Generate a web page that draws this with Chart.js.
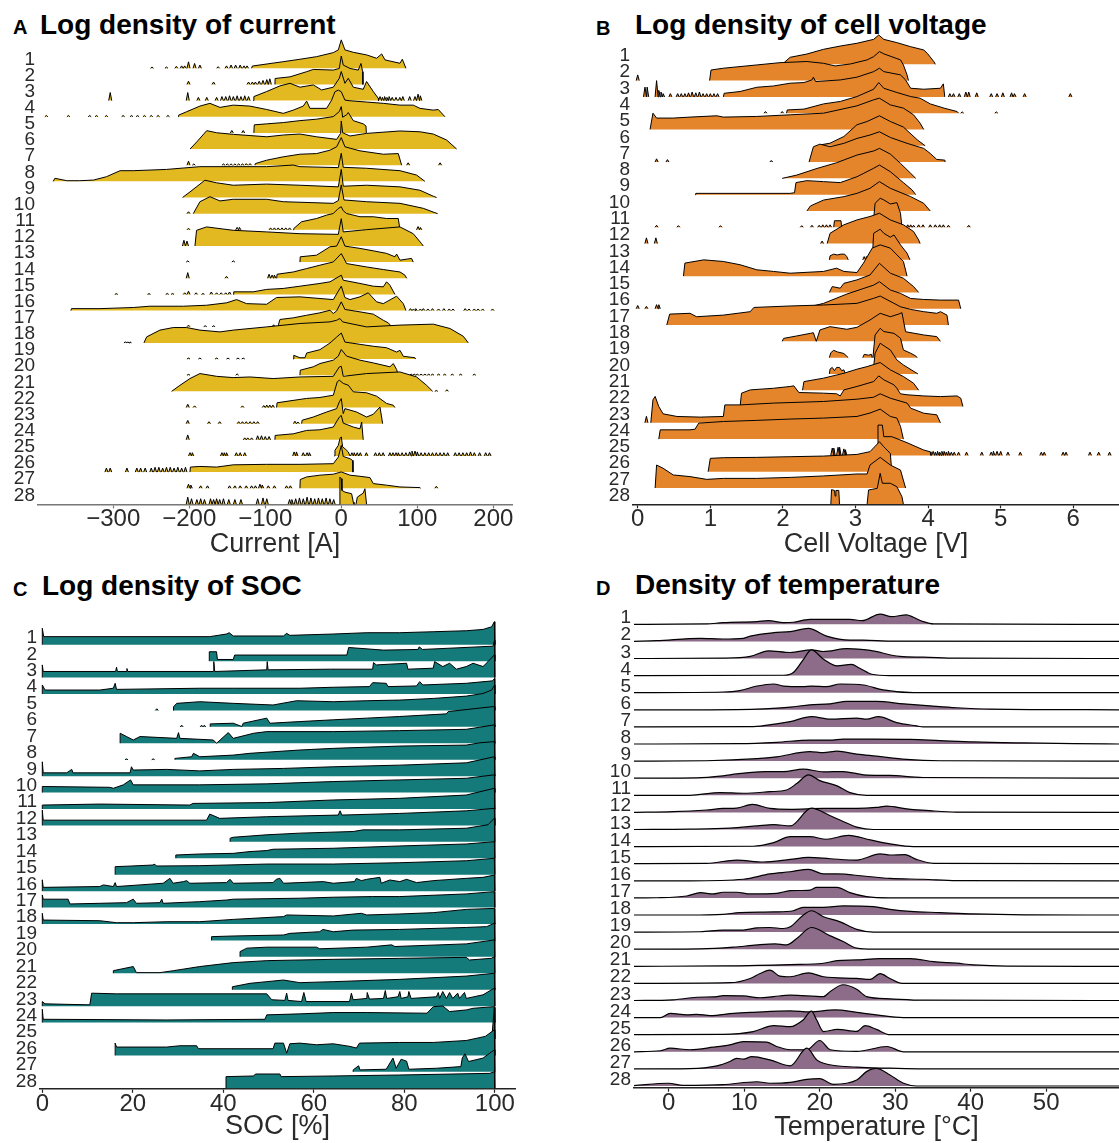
<!DOCTYPE html>
<html>
<head>
<meta charset="utf-8">
<script src="https://cdn.jsdelivr.net/npm/chart.js@4.4.1/dist/chart.umd.min.js"></script>
<style>
  html, body { margin: 0; padding: 0; background: #fff; overflow: hidden; }
  body { width: 1119px; height: 1143px; position: relative; font-family: 'Liberation Sans', Arial, sans-serif; }
  .tag, .title { position: absolute; font-weight: bold; color: #000; line-height: 1; white-space: nowrap; }
  .tag { font-size: 20px; }
  .title { font-size: 28px; }
  .panel { position: absolute; }
</style>
</head>
<body>
<div class="tag" style="left:13px;top:17px">A</div>
<div class="title" style="left:40px;top:10.5px">Log density of current</div>
<div class="tag" style="left:596px;top:18px">B</div>
<div class="title" style="left:635px;top:11.3px">Log density of cell voltage</div>
<div class="tag" style="left:13px;top:579px">C</div>
<div class="title" style="left:42px;top:572px">Log density of SOC</div>
<div class="tag" style="left:596px;top:578px">D</div>
<div class="title" style="left:635px;top:571.3px">Density of temperature</div>

<div class="panel" id="pA"><canvas></canvas></div>
<div class="panel" id="pB"><canvas></canvas></div>
<div class="panel" id="pC"><canvas></canvas></div>
<div class="panel" id="pD"><canvas></canvas></div>

<script>
// row labels, top to bottom
const ROW_LABELS = ['1','2','3','4','5','6','7','8','9','10','11','12','13','14','15','16','17','18','19','20','21','22','23','24','25','26','27','28'];

const CURRENT_TICKS = [-300, -200, -100, 0, 100, 200];
const VOLTAGE_TICKS = [0, 1, 2, 3, 4, 5, 6];
const SOC_TICKS = [0, 20, 40, 60, 80, 100];
const TEMP_TICKS = [0, 10, 20, 30, 40, 50];

// each row: [value, height in row units], null = gap
const CURRENT_ROWS = [
  [[-118,0],[-117,0.14],[-76.3,0.41],[-54.4,0.56],[-32.5,0.72],[-10.5,0.97],[-3.9,1.14],[0,1.76],[4.8,1.14],[15.8,0.99],[33.3,0.83],[46.5,0.62],[53.1,0.89],[57.5,0.52],[77.2,0.31],[80.3,0.56],[85.1,0]],
  [[-87.3,0],[-87,0.37],[-67.5,0.47],[-45.6,0.79],[-36.8,0.93],[-10.5,0.89],[-2.6,0.99],[0,1.76],[2.6,1.2],[11.4,0.99],[22.4,0.89],[25.9,1.3],[28.1,0.79],[28.5,0]],
  [[-115.8,0],[-115,0.25],[-98.2,0.56],[-80.7,0.91],[-67.5,1.07],[-54.4,0.83],[-36.8,0.97],[-25.9,0.66],[-10.5,0.83],[-2.6,1.38],[0,1.8],[4.8,1.07],[9.2,1.38],[15.8,0.83],[28.9,0.7],[33.3,1.18],[42.1,0.56],[48.7,0.14],[49,0]],
  [[-214.5,0],[-214,0.1],[-203.5,0.31],[-186,0.66],[-172.8,0.83],[-159.6,0.58],[-142.1,0.72],[-120.2,0.66],[-98.2,0.45],[-76.3,0.21],[-63.2,0.41],[-50,0.66],[-45.6,0.97],[-41.2,0.52],[-19.3,0.52],[-12.7,1.03],[-8.3,1.55],[-3.9,1.65],[0,1.55],[4.8,1.03],[11.4,0.99],[33.3,0.91],[55.3,0.83],[77.2,0.72],[94.7,0.72],[103.5,0.52],[121,0.41],[127.6,0.45],[136.4,0]],
  [[-115,0],[-114.5,0.5],[-98.2,0.56],[-76.3,0.64],[-54.4,0.76],[-32.5,0.85],[-10.5,1.01],[-2.6,1.32],[0,1.63],[1.8,0.97],[7,1.12],[9.2,1.26],[15.8,0.76],[28.9,0.56],[32.5,0.43],[33,0]],
  [[-199,0],[-190,0.45],[-177,1.14],[-164,1.01],[-142,0.91],[-98,0.76],[-76,0.87],[-54.4,0.93],[-32.5,0.76],[-6.1,0.6],[-0.9,0.97],[0,1.74],[1.8,1.01],[11.4,0.81],[33.3,0.97],[77.2,1.12],[103.5,1.07],[121,0.93],[138.6,0.56],[151.8,0]],
  [[-113.6,0],[-113,0.1],[-98.2,0.31],[-76.3,0.52],[-54.4,0.68],[-32.5,0.72],[-14.9,0.93],[-6.1,1.14],[0,1.71],[4.8,1.14],[24.6,0.89],[33.3,0.83],[55.3,0.68],[75,0.72],[79.4,0]],
  [[-379,0],[-376.8,0.19],[-361,0.04],[-344,0.04],[-326,0.08],[-308.8,0.29],[-291,0.66],[-273.7,0.66],[-229.8,0.74],[-186,0.91],[-142,0.91],[-98,0.91],[-63.2,1.01],[-54.4,0.91],[-3.9,0.85],[0,1.74],[2.6,0.87],[33.3,0.81],[77.2,0.66],[99.1,0.39],[110,0]],
  [[-208.8,0],[-199,0.35],[-179.4,1.07],[-164,0.91],[-142.1,0.76],[-98.2,0.83],[-54.4,0.76],[-3.9,0.66],[0,1.74],[2.6,0.7],[33.3,0.76],[77.2,0.66],[103.5,0.45],[121,0.08],[125.4,0]],
  [[-194.7,0],[-186,0.74],[-172.8,1.05],[-159.6,0.79],[-142.1,0.89],[-98.2,0.89],[-76.3,0.74],[-10.5,0.64],[-3.9,0.81],[0,1.78],[3.5,0.85],[33.3,0.74],[77.2,0.64],[107.9,0.33],[123.2,0.06],[126.8,0]],
  [[-63.2,0],[-62.5,0.08],[-52.2,0.5],[-32.5,0.7],[-19.3,0.91],[-10.5,1.01],[-3.9,1.32],[0,1.43],[2.6,1.18],[7,1.01],[24.6,0.81],[42.1,0.81],[59.6,0.7],[75,0.7],[77.2,0]],
  [[-192.5,0],[-190.4,0.97],[-177.2,1.18],[-142.1,0.97],[-98.2,0.87],[-54.4,0.76],[-3.9,0.72],[0,1.69],[2.6,0.87],[33.3,1.01],[77.2,1.18],[94.7,0.76],[105.7,0.14],[107.9,0]],
  [[-54.4,0],[-54,0.33],[-32.5,0.43],[-14.9,0.95],[-6.1,0.99],[0,1.57],[4.8,0.99],[24.6,0.85],[42.1,0.7],[59.6,0.54],[70.6,0.33],[72.8,0.5],[77.2,0.12],[92.5,0.23],[94.7,0]],
  [[-85,0],[-84.5,0.25],[-63.2,0.39],[-45.6,0.6],[-28.1,0.81],[-10.5,1.01],[0,1.53],[7,0.91],[33.3,0.7],[55.3,0.54],[77.2,0.39],[83.8,0.19],[86,0]],
  [[-142.1,0],[-141.5,0.16],[-115.8,0.16],[-98.2,0.31],[-76.3,0.37],[-54.4,0.51],[-28.1,0.68],[-14.9,0.78],[0,1.19],[2.6,0.88],[24.6,0.68],[42.1,0.51],[55.3,0.47],[59.6,0.78],[64,0.57],[70.6,0]],
  [[-355.7,0],[-355,0.12],[-317.5,0.12],[-273.7,0.19],[-251.8,0.27],[-207.9,0.27],[-177.2,0.33],[-150.9,0.48],[-137.7,0.68],[-124.6,0.43],[-98.2,0.39],[-85.1,0.81],[-54.4,0.85],[-10.5,0.68],[0,1.51],[4.8,0.81],[11.4,0.68],[24.6,0.85],[35.5,1.1],[46.5,0.54],[55.3,0.43],[72.8,0.89],[81.6,0.43],[85.1,0]],
  [[-82.9,0],[-82.5,0.16],[-80.7,0.45],[-63.2,0.55],[-45.6,0.71],[-28.1,0.86],[-14.9,1.02],[-10.5,0.82],[-6.1,0.98],[0,1.54],[4.8,1.07],[24.6,0.92],[42.1,0.78],[55.3,0.4],[61.8,0.24],[66.2,0]],
  [[-259.6,0],[-256.1,0.37],[-238.6,0.79],[-221,0.95],[-203.5,0.95],[-186,0.79],[-159.6,0.68],[-142.1,0.79],[-98.2,0.99],[-54.4,1.2],[-14.9,1.3],[-6.1,1.4],[-1.8,1.51],[1.8,1.3],[11.4,1.2],[33.3,0.99],[77.2,1.1],[121,1.16],[143,0.89],[160.5,0.41],[167.1,0]],
  [[-63.2,0],[-62.5,0.23],[-54.4,0.08],[-47.8,0.08],[-45.6,0.37],[-28.1,0.58],[-14.9,0.99],[-6.1,1.36],[0,1.61],[4.8,1.05],[24.6,0.91],[42.1,0.79],[59.6,0.7],[72.8,0.43],[77.2,0.54],[81.6,0.17],[96.9,0.08],[97.8,0]],
  [[-54.4,0],[-54,0.31],[-36.8,0.52],[-28.1,0.72],[-10.5,0.93],[-3.9,1.18],[0,1.59],[7,1.18],[24.6,0.93],[42.1,0.76],[64,0.52],[68.4,0.72],[72.8,0.35],[75,0]],
  [[-223.2,0],[-212.3,0.37],[-199.1,0.79],[-186,1.1],[-164,0.93],[-142.1,0.85],[-120.2,0.89],[-89.5,0.79],[-54.4,0.89],[-10.5,0.93],[-2.6,1.51],[0,1.55],[2.6,0.93],[33.3,1.1],[77.2,1.2],[99.1,0.89],[112.3,0.37],[120.2,0]],
  [[-85.1,0],[-84.5,0.29],[-67.5,0.41],[-45.6,0.56],[-28.1,0.62],[-10.5,0.76],[-5.3,1.59],[-2.6,1.69],[2.6,1.49],[9.2,1.38],[15.8,0.97],[33.3,0.91],[46.5,0.7],[59.6,0.25],[68.4,0.14],[70.6,0]],
  [[-52.2,0],[-51.5,0.21],[-36.8,0.41],[-19.3,0.72],[-6.1,0.93],[-2.6,1.34],[0,1.55],[2.6,0.62],[4.8,0.93],[20.2,0.72],[33.3,0.41],[42.1,0.58],[50.9,1.03],[54.4,0]],
  [[-87.3,0],[-87,0.27],[-63.2,0.37],[-45.6,0.58],[-28.1,0.62],[-10.5,0.79],[-2.6,1.4],[0,1.51],[2.6,1.03],[15.8,0.79],[24.6,0.68],[26.8,1.1],[28.9,0]],
  [[-9.2,0],[-8.3,0.35],[-3.9,0.66],[-1.8,1.07],[0,1.18],[1.8,0.56],[4.8,0.45],[9.2,0.25],[11.4,0]],
  [[-199.1,0],[-198.5,0.31],[-186,0.35],[-164,0.31],[-142.1,0.45],[-98.2,0.48],[-54.4,0.48],[-10.5,0.52],[-3.9,0.93],[0,1.65],[2.6,0.97],[11.4,0.83],[14.9,0.72],[15.4,0]],
  [[-54.4,0],[-54,0.54],[-45.6,0.7],[-28.1,0.81],[-10.5,0.87],[0,1.01],[11.4,0.81],[24.6,0.74],[37.7,0.66],[42.1,0.29],[59.6,0.19],[77.2,0.08],[103.5,0.04],[104.4,0]],
  [[-2.6,0],[-1.8,1.69],[0,1.59],[0.9,0.87],[4.8,0.76],[13.6,0.66],[15.8,0.14],[16.7,0],null,[19.3,0],[21.1,0.45],[28.9,0.7],[31.1,0.97],[33.3,0]]
];

// isolated small bumps: [value, height]
const CURRENT_SPIKES = [
  [[-249,0.08],[-230,0.08],[-217,0.12],[-210,0.15],[-206,0.15],[-201,0.4],[-193,0.3],[-186,0.2],[-162,0.1],[-151,0.15],[-145,0.2],[-139,0.2],[-133,0.2],[-128,0.15],[-124,0.15]],
  [[-201,0.2],[-168,0.15],[-122,0.15],[-117,0.15],[-113,0.15],[-108,0.2],[-103,0.25],[-98,0.3],[-94,0.35]],
  [[-304,0.5],[-202,0.5],[-188,0.2],[-177,0.2],[-164,0.2],[-157,0.25],[-152,0.25],[-147,0.3],[-142,0.25],[-137,0.3],[-132,0.25],[-127,0.3],[-122,0.25],[51,0.25],[54,0.2],[57,0.25],[60,0.2],[63,0.25],[67,0.2],[72,0.2],[77,0.2],[81,0.25],[90,0.25],[97,0.25],[101,0.4],[104,0.3]],
  [[-388,0.08],[-359,0.08],[-331,0.08],[-322,0.08],[-309,0.08],[-287,0.08],[-276,0.08],[-268,0.08],[-259,0.08],[-250,0.08],[-241,0.08],[-228,0.08]],
  [[-144,0.15],[-129,0.15]],
  [],
  [[-201,0.25],[-194,0.08],[-155,0.08],[-150,0.08],[-145,0.08],[-140,0.08],[-135,0.08],[-130,0.08],[-125,0.1],[-120,0.1],[88,0.15],[130,0.15]],
  [],
  [],
  [[-201,0.12]],
  [[-201,0.1],[-137,0.15],[-134,0.15],[-93,0.12],[-88,0.12],[-83,0.12],[-78,0.12],[-73,0.12],[-68,0.12],[101,0.2],[104,0.15]],
  [[-207,0.35],[-203,0.3]],
  [[-202,0.08],[-142,0.08]],
  [[-202,0.35],[-151,0.12],[-95,0.25],[-91,0.2],[-88,0.2]],
  [[-296,0.05],[-253,0.05],[-229,0.06],[-222,0.06],[-206,0.1],[-201,0.2],[-191,0.1],[-182,0.06],[-171,0.15],[-164,0.1],[-158,0.1],[-152,0.1],[-147,0.15]],
  [[91,0.12],[95,0.1],[98,0.12],[104,0.1],[108,0.12],[114,0.1],[120,0.12],[128,0.1],[135,0.12],[142,0.1],[147,0.1],[163,0.12],[168,0.1],[175,0.1],[180,0.1],[186,0.1],[199,0.1]],
  [[-201,0.1],[-179,0.06],[-168,0.06],[-89,0.12]],
  [[-284,0.06],[-281,0.06],[-278,0.06]],
  [[-201,0.06],[-186,0.06],[-164,0.06],[-149,0.06],[-136,0.06],[-129,0.06]],
  [[-201,0.05],[-137,0.08],[92,0.06],[96,0.06],[100,0.06],[105,0.06],[110,0.06],[115,0.06],[120,0.06],[128,0.06],[136,0.06],[146,0.06],[157,0.06],[175,0.06]],
  [[125,0.05],[139,0.1]],
  [[-202,0.2],[-193,0.1],[-130,0.1],[-102,0.12],[-98,0.15],[-94,0.15],[-90,0.15]],
  [[-202,0.2],[-174,0.12],[-160,0.12],[-135,0.12],[-130,0.12],[-125,0.12],[-120,0.12],[-115,0.12],[-110,0.12],[-61,0.15],[-57,0.1]],
  [[-202,0.3],[-127,0.12],[-123,0.12],[-118,0.12],[-110,0.25],[-105,0.25],[-100,0.2],[-95,0.2]],
  [[-199,0.2],[-196,0.2],[-157,0.2],[-154,0.2],[-151,0.2],[-138,0.2],[-133,0.2],[-127,0.2],[-62,0.25],[-59,0.25],[-50,0.2],[-45,0.2],[-42,0.2],[14,0.2],[17,0.2],[21,0.2],[25,0.2],[33,0.2],[45,0.2],[50,0.2],[55,0.2],[64,0.2],[68,0.2],[72,0.2],[75,0.2],[80,0.2],[85,0.2],[90,0.25],[93,0.3],[97,0.3],[100,0.25],[105,0.2],[110,0.2],[115,0.2],[120,0.2],[125,0.2],[130,0.2],[135,0.2],[140,0.2],[150,0.2],[155,0.2],[160,0.2],[165,0.2],[170,0.25],[175,0.2],[182,0.2],[190,0.2],[195,0.2]],
  [[-309,0.25],[-304,0.25],[-282,0.25],[-269,0.25],[-264,0.25],[-258,0.25],[-250,0.25],[-245,0.3],[-240,0.3],[-235,0.25],[-230,0.3],[-225,0.3],[-220,0.25],[-215,0.3],[-210,0.25],[-205,0.3]],
  [[-201,0.25],[-198,0.2],[-185,0.15],[-176,0.15],[-147,0.15],[-140,0.15],[-133,0.15],[-125,0.15],[-118,0.15],[-113,0.15],[-107,0.25],[-104,0.2],[-96,0.15],[-88,0.15],[-72,0.15],[-67,0.15],[125,0.12]],
  [[-202,0.45],[-197,0.35],[-190,0.3],[-185,0.35],[-180,0.3],[-172,0.35],[-168,0.3],[-164,0.35],[-160,0.3],[-155,0.35],[-148,0.3],[-140,0.3],[-132,0.3],[-110,0.35],[-103,0.4],[-98,0.35],[-68,0.3],[-65,0.3],[-60,0.35],[-55,0.4],[-50,0.35],[-45,0.45],[-40,0.4],[-35,0.35],[-30,0.4],[-25,0.35],[-20,0.4],[-15,0.35],[-10,0.3]]
];

const VOLTAGE_ROWS = [
  [[2.01,0],[2.02,0.12],[2.1,0.43],[2.33,0.63],[2.56,0.92],[2.79,1.12],[3.02,1.29],[3.25,1.53],[3.32,1.8],[3.39,1.53],[3.57,1.33],[3.76,1.08],[3.94,0.88],[3.99,0.67],[4.08,0.16],[4.1,0]],
  [[0.99,0],[1.01,0.65],[1.18,0.76],[1.64,0.96],[1.96,1.1],[2.33,1.17],[2.56,1.06],[2.72,0.9],[2.93,1.02],[3.16,1.27],[3.25,1.47],[3.33,1.78],[3.39,1.64],[3.62,1.27],[3.66,0.96],[3.71,0.35],[3.73,0]],
  [[1.18,0],[1.19,0.22],[1.41,0.33],[1.64,0.59],[1.87,0.67],[2.1,0.84],[2.29,0.88],[2.4,1.04],[2.42,1.21],[2.45,0.94],[2.79,1.04],[3.02,1.21],[3.25,1.55],[3.33,1.76],[3.39,1.55],[3.62,1.35],[3.69,1.04],[3.76,0.53],[3.94,0.47],[4.17,0.53],[4.21,0.8],[4.23,0]],
  [[2.05,0],[2.06,0.2],[2.29,0.25],[2.56,0.57],[2.79,0.72],[3.02,1.02],[3.25,1.47],[3.32,1.88],[3.39,1.53],[3.57,1.27],[3.76,1.02],[3.89,0.92],[4.03,0.57],[4.22,0.31],[4.4,0.1],[4.42,0]],
  [[0.17,0],[0.21,1.0],[0.26,0.7],[0.49,0.7],[0.72,0.76],[1.09,0.84],[1.18,0.76],[1.64,0.8],[2.1,0.9],[2.56,1.0],[3.02,1.45],[3.25,1.82],[3.33,1.92],[3.48,1.51],[3.66,1.31],[3.8,0.9],[3.89,0.39],[3.94,0]],
  [[2.51,0],[2.52,0.06],[2.65,0.16],[2.84,0.57],[3.02,1.29],[3.16,1.49],[3.33,1.84],[3.48,1.49],[3.66,1.15],[3.85,0.37],[3.96,0]],
  [[2.36,0],[2.42,0.94],[2.51,1.1],[2.65,0.94],[2.84,1.15],[3.02,1.45],[3.2,1.66],[3.33,1.86],[3.48,1.51],[3.71,1.15],[3.94,0.84],[4.03,0.53],[4.12,0.16],[4.23,0.12],[4.235,0]],
  [[1.99,0],[2.19,0.2],[2.47,0.61],[2.74,0.96],[3.02,1.43],[3.25,1.68],[3.33,1.84],[3.48,1.49],[3.62,0.92],[3.76,0.31],[3.83,0]],
  [[0.79,0],[0.8,0.08],[2.1,0.08],[2.16,0.12],[2.18,0.74],[2.33,0.86],[2.56,0.8],[2.79,0.74],[3.02,1.1],[3.25,1.62],[3.33,1.82],[3.48,1.41],[3.66,0.74],[3.78,0.29],[3.83,0]],
  [[2.33,0],[2.38,0.31],[2.56,0.67],[2.84,0.88],[3.02,1.08],[3.2,1.39],[3.33,1.8],[3.48,1.39],[3.76,0.88],[3.94,0.47],[4.03,0]],
  [[2.7,0],[2.71,0.4],[2.8,0.4],[2.81,0],null,[3.24,0],[3.27,1.47],[3.34,1.78],[3.39,1.68],[3.48,1.43],[3.57,1.51],[3.62,0.86],[3.64,0]],
  [[2.61,0],[2.65,0.63],[2.84,1.15],[3.02,1.45],[3.2,1.66],[3.33,1.86],[3.48,1.45],[3.66,1.15],[3.8,0.74],[3.87,0.22],[3.89,0]],
  [[2.64,0],[2.65,0.25],[2.7,0.35],[2.75,0.3],[2.8,0.35],[2.85,0.35],[2.88,0.2],[2.9,0],null,[3.23,0],[3.25,1.63],[3.34,1.88],[3.39,1.63],[3.48,1.39],[3.53,1.53],[3.62,0.92],[3.71,0.41],[3.75,0]],
  [[0.63,0],[0.65,0.8],[0.91,1.0],[1.18,0.9],[1.41,0.7],[1.64,0.39],[1.87,0.29],[2.1,0.18],[2.56,0.29],[2.74,0.49],[2.84,0.29],[3.02,0.22],[3.11,0.8],[3.23,1.72],[3.34,1.92],[3.48,1.72],[3.66,0.9],[3.71,0]],
  [[2.64,0],[2.68,0.36],[2.79,0.26],[2.84,0.56],[3.02,0.77],[3.2,1.07],[3.33,1.79],[3.48,1.18],[3.66,0.87],[3.8,0.36],[3.87,0]],
  [[2.19,0],[2.33,0.08],[2.56,0.33],[2.88,0.9],[3.25,1.45],[3.33,1.66],[3.48,1.15],[3.62,0.94],[3.76,0.63],[3.94,0.57],[4.17,0.53],[4.42,0.53],[4.45,0]],
  [[0.4,0],[0.44,0.67],[0.72,0.72],[0.81,0.51],[1.18,0.61],[1.55,0.82],[1.6,1.08],[2.1,1.17],[2.56,1.23],[3.02,1.33],[3.25,1.64],[3.34,1.78],[3.62,1.12],[3.76,0.96],[3.94,0.82],[4.12,0.72],[4.17,0.82],[4.26,0.61],[4.28,0]],
  [[1.99,0],[2.01,0.18],[2.19,0.33],[2.38,0.49],[2.42,0.53],[2.46,0],[2.51,0.7],[2.65,0.9],[2.88,0.74],[3.02,0.86],[3.2,1.31],[3.34,1.72],[3.48,1.51],[3.6,1.68],[3.64,1.76],[3.69,0.59],[3.94,0.39],[4.12,0.29],[4.17,0]],
  [[2.64,0],[2.66,0.3],[2.7,0.45],[2.75,0.35],[2.8,0.3],[2.84,0.25],[2.9,0],null,[3.1,0],[3.12,0.2],[3.18,0.15],[3.22,0.2],[3.23,0],null,[3.24,0],[3.27,1.39],[3.34,1.8],[3.39,1.6],[3.53,1.49],[3.62,1.19],[3.66,0.47],[3.76,0.27],[3.83,0.1],[3.85,0]],
  [[2.64,0],[2.65,0.3],[2.68,0.4],[2.71,0.2],[2.74,0.4],[2.78,0.4],[2.81,0.2],[2.84,0.25],[2.86,0],null,[3.24,0],[3.27,1.27],[3.34,1.88],[3.48,1.47],[3.57,0.86],[3.66,0.55],[3.86,0]],
  [[2.27,0],[2.29,0.53],[2.56,0.74],[2.84,1.04],[3.02,1.29],[3.16,1.45],[3.34,1.7],[3.48,1.25],[3.66,0.84],[3.8,0.43],[3.87,0]],
  [[1.41,0],[1.43,0.82],[1.55,1.02],[1.87,1.12],[2.1,1.23],[2.15,1.27],[2.22,0.86],[2.56,0.82],[2.74,0.78],[2.79,0.65],[2.84,1.02],[3.02,1.23],[3.25,1.53],[3.32,1.88],[3.39,1.64],[3.53,1.33],[3.57,1.12],[3.62,0.78],[3.71,0.72],[3.94,0.65],[4.17,0.61],[4.4,0.65],[4.45,0.51],[4.48,0]],
  [[0.18,0],[0.21,1.41],[0.24,1.62],[0.29,1.0],[0.35,0.55],[0.54,0.39],[0.86,0.35],[1.18,0.39],[1.2,1.1],[1.41,1.1],[1.87,1.21],[2.56,1.31],[3.02,1.45],[3.25,1.57],[3.34,1.78],[3.48,1.51],[3.71,1.21],[3.76,0.9],[3.94,0.59],[4.12,0.49],[4.17,0]],
  [[0.29,0],[0.31,0.57],[0.72,0.57],[0.79,0.61],[0.84,0.98],[1.18,1.08],[1.64,1.15],[2.1,1.23],[2.56,1.29],[3.02,1.39],[3.2,1.6],[3.34,1.84],[3.48,1.39],[3.57,1.29],[3.62,0.78],[3.66,0]],
  [[3.3,0],[3.31,1.86],[3.37,1.86],[3.39,1.15],[3.5,1.15],[3.71,0.78],[3.94,0.33],[4.03,0.22],[4.04,0]],
  [[0.97,0],[1.0,0.82],[1.18,0.86],[1.64,0.88],[2.1,0.92],[2.56,0.96],[3.02,1.06],[3.2,1.23],[3.33,1.84],[3.39,1.53],[3.48,1.12],[3.5,0]],
  [[0.24,0],[0.26,1.41],[0.35,1.21],[0.49,0.8],[0.72,0.7],[0.95,0.53],[1.18,0.59],[1.64,0.59],[2.1,0.65],[2.56,0.74],[3.02,0.86],[3.16,0.86],[3.2,1.41],[3.34,1.88],[3.48,1.41],[3.62,1.1],[3.69,0]],
  [[2.66,0],[2.67,0.9],[2.71,0.85],[2.72,0.5],[2.73,0.85],[2.77,0.85],[2.78,0],null,[3.16,0],[3.18,0.88],[3.3,0.98],[3.34,1.9],[3.37,1.29],[3.48,1.29],[3.57,1.08],[3.64,0.47],[3.66,0]]
];

const VOLTAGE_SPIKES = [
  [],
  [[0.0,0.35]],
  [[0.1,0.6],[0.13,0.6],[0.26,1.0],[0.29,0.4],[0.32,0.3],[0.35,0.2],[0.45,0.2],[0.55,0.2],[0.6,0.2],[0.65,0.2],[0.7,0.25],[0.75,0.3],[0.8,0.25],[0.85,0.3],[0.9,0.2],[0.95,0.2],[1.0,0.2],[1.05,0.2],[1.1,0.2],[4.3,0.2],[4.35,0.2],[4.43,0.2],[4.52,0.3],[4.56,0.3],[4.67,0.25],[4.87,0.2],[4.95,0.2],[5.03,0.25],[5.15,0.25],[5.19,0.2],[5.33,0.2],[5.96,0.2]],
  [[1.76,0.1],[1.99,0.1],[4.47,0.08],[4.94,0.08]],
  [], [],
  [[0.26,0.2],[0.41,0.15],[1.84,0.1]],
  [], [], [],
  [[0.26,0.12],[0.56,0.1],[1.14,0.1],[2.26,0.1],[2.4,0.12],[2.5,0.12],[2.55,0.15],[2.6,0.15],[2.65,0.15],[3.72,0.15],[3.76,0.15],[3.8,0.12],[3.87,0.15],[3.93,0.15],[4.03,0.15],[4.1,0.15],[4.16,0.15],[4.21,0.15],[4.28,0.12],[4.56,0.12]],
  [[0.12,0.35],[0.25,0.35],[2.54,0.15]],
  [[3.12,0.2],[3.15,0.2],[3.18,0.3],[3.2,0.3]],
  [], [],
  [[0.0,0.2],[0.12,0.15],[0.26,0.25],[0.29,0.25]],
  [], [], [], [], [], [],
  [[0.12,0.4]],
  [],
  [[2.68,0.45],[2.7,0.45],[2.76,0.5],[2.78,0.5],[2.84,0.4],[2.86,0.35],[4.07,0.25],[4.1,0.2],[4.13,0.25],[4.16,0.2],[4.19,0.25],[4.22,0.25],[4.25,0.2],[4.28,0.25],[4.32,0.2],[4.36,0.2],[4.42,0.2],[4.53,0.2],[4.74,0.2],[4.87,0.2],[4.9,0.25],[4.95,0.25],[5.0,0.25],[5.1,0.2],[5.27,0.2],[5.56,0.2],[5.6,0.2],[5.86,0.2],[5.9,0.2],[6.23,0.2],[6.35,0.2],[6.5,0.2]],
  [], [], []
];

const SOC_ROWS = [
  [[0,0],[0,1.0],[0.3,0.49],[37,0.49],[40.7,0.65],[41.3,0.73],[42.2,0.53],[53.3,0.53],[54,0.69],[54.7,0.57],[64.3,0.65],[71.7,0.73],[79,0.73],[86.4,0.79],[93.7,0.85],[97.4,0.93],[99.3,1.09],[99.9,1.4],[100,0]],
  [[36.9,0],[36.9,0.57],[38.5,0.57],[38.7,0.1],[42.2,0.1],[42.5,0.37],[67.3,0.37],[67.7,0.83],[75.4,0.67],[83,0.71],[83.3,0.87],[84,0.71],[99.6,0.91],[99.95,1.28],[100,0]],
  [[0,0],[0,0.77],[0.2,0.37],[16.2,0.37],[16.4,0.63],[16.6,0.37],[18.5,0.37],[18.7,0.55],[18.9,0.37],[37.8,0.37],[37.9,0.97],[38.1,0.37],[49.6,0.47],[49.7,0.97],[49.9,0.47],[63.7,0.51],[73,0.51],[73.2,0.91],[73.8,0.77],[80.5,0.87],[80.8,0.51],[86.4,0.57],[86.7,0.97],[88.5,0.67],[90,0.87],[91.5,0.51],[93.7,0.67],[95.2,0.87],[97.4,0.67],[98.5,0.97],[99.9,1.38],[100,0]],
  [[0,0],[0,0.55],[0.6,0.24],[12.7,0.24],[15.7,0.35],[16.1,0.65],[16.4,0.28],[34.8,0.35],[42.2,0.35],[56.9,0.35],[64.3,0.41],[72.3,0.45],[73,0.69],[76,0.65],[76.4,0.45],[82.7,0.49],[83.4,0.75],[84.1,0.55],[93.7,0.65],[99.5,0.8],[99.95,0.95],[100,0]],
  [[28.9,0],[29,0.22],[29.7,0.43],[34.8,0.53],[42.2,0.43],[51,0.33],[56.2,0.59],[64.3,0.53],[71.7,0.59],[79,0.63],[86.4,0.73],[93.7,0.87],[97.4,1.03],[99.3,1.24],[99.95,1.54],[100,0]],
  [[37.1,0],[37.1,0.18],[42.2,0.22],[44.1,0.02],[44.4,0.22],[49.6,0.53],[50.3,0.22],[56.9,0.32],[64.3,0.43],[71.7,0.53],[79,0.63],[89.3,0.79],[89.7,0.93],[99.9,1.24],[100,0]],
  [[17.2,0],[17.2,0.61],[18.6,0.41],[20.1,0.2],[21.6,0.41],[29.7,0.3],[30.1,0.65],[30.4,0.3],[37.8,0.2],[38.5,0.0],[39.3,0.2],[41.1,0.65],[42.2,0.3],[46.7,0.61],[49.6,0.71],[64.3,0.71],[79,0.77],[93.7,0.85],[99.9,1.12],[100,0]],
  [[29.3,0],[29.3,0.08],[33,0.18],[33.4,0.39],[34.8,0.18],[42.2,0.28],[45.9,0.39],[56.9,0.59],[64.3,0.69],[79,0.83],[93.7,0.89],[96.7,1.03],[99.9,1.1],[100,0]],
  [[0,0],[0,0.87],[0.2,0.2],[5.4,0.2],[6.5,0.41],[6.8,0.2],[19.4,0.2],[19.7,0.57],[20.1,0.37],[27.5,0.41],[34.8,0.32],[42.2,0.41],[53.3,0.47],[64.3,0.57],[79,0.67],[93.7,0.81],[99.9,1.18],[100,0]],
  [[0,0],[0,0.37],[14.9,0.32],[15.7,0.26],[17.9,0.47],[19.5,0.77],[20.1,0.47],[34.8,0.47],[49.6,0.53],[64.3,0.67],[79,0.77],[93.7,0.87],[99.9,1.08],[100,0]],
  [[0,0],[0,0.24],[12.7,0.3],[32.6,0.24],[33.3,0.34],[49.6,0.39],[64.3,0.55],[79,0.65],[93.7,0.85],[99.9,1.26],[100,0]],
  [[0,0],[0,0.93],[0.2,0.32],[36.3,0.32],[37,0.69],[39.2,0.43],[49.6,0.53],[65.4,0.63],[65.8,0.89],[66.2,0.63],[79,0.73],[93.7,0.89],[99.9,1.04],[100,0]],
  [[41.5,0],[41.5,0.22],[42.2,0.28],[49.6,0.43],[56.9,0.53],[68.7,0.63],[70.9,0.73],[79,0.73],[93.7,0.83],[98.5,1.04],[99.9,1.44],[100,0]],
  [[29.5,0],[29.5,0.2],[34.8,0.26],[42.2,0.3],[45.9,0.41],[49.6,0.47],[51,0.55],[64.3,0.61],[79,0.75],[93.7,0.87],[99.9,1.01],[100,0]],
  [[16.1,0],[16.1,0.49],[19.7,0.53],[24.5,0.59],[24.7,0.65],[25.3,0.53],[34.8,0.55],[49.6,0.65],[64.3,0.65],[79,0.73],[93.7,0.85],[99.9,1.0],[100,0]],
  [[0,0],[0,0.69],[0.2,0.23],[12.7,0.28],[13.5,0.38],[15.7,0.28],[16.1,0.52],[16.4,0.28],[21.6,0.38],[26.7,0.48],[28.2,0.78],[28.9,0.48],[31.2,0.58],[31.9,0.64],[32.6,0.48],[40.7,0.52],[41.5,0.72],[42.2,0.48],[51,0.52],[51.7,0.72],[52.5,0.78],[53.3,0.48],[56.9,0.52],[62.1,0.58],[64.3,0.48],[69,0.58],[69.4,0.78],[70.5,0.64],[71.7,0.72],[74.6,0.84],[74.9,0.48],[76.8,0.68],[79,0.58],[80.5,0.72],[82.7,0.52],[86.4,0.64],[93.7,0.78],[97.4,0.84],[99.9,0.98],[100,0]],
  [[0,0],[0,0.77],[0.2,0.51],[5.7,0.51],[6.1,0.22],[12.7,0.26],[18.6,0.3],[20.1,0.51],[20.8,0.26],[26,0.3],[26.4,0.51],[26.7,0.26],[34.8,0.36],[40.7,0.46],[42.2,0.51],[56.9,0.57],[64.3,0.63],[73,0.67],[79,0.67],[93.7,0.83],[99.9,0.97],[100,0]],
  [[0,0],[0,0.65],[0.2,0.24],[12.7,0.2],[16.4,0.08],[20.1,0.08],[27.5,0.14],[34.8,0.14],[42.2,0.28],[53.3,0.45],[54,0.55],[64.3,0.49],[70.5,0.65],[71.7,0.55],[79,0.61],[86.4,0.69],[93.7,0.89],[99.9,0.95],[100,0]],
  [[37.4,0],[37.4,0.23],[42.2,0.27],[53.3,0.33],[54.7,0.43],[61.3,0.53],[62,0.67],[64.3,0.53],[68.7,0.63],[79,0.67],[93.7,0.79],[98.2,0.84],[99.9,1.05],[100,0]],
  [[43.7,0],[43.7,0.32],[45.2,0.53],[49.6,0.59],[60.6,0.59],[61.3,0.49],[71.7,0.59],[77.2,0.73],[77.9,0.63],[93.7,0.79],[99.9,1.03],[100,0]],
  [[15.7,0],[15.7,0.16],[20.1,0.41],[20.8,0.04],[26,0.04],[29,0.16],[34.8,0.41],[42.2,0.65],[49.6,0.77],[64.3,0.85],[79,0.91],[93.7,0.97],[94.4,0.81],[99.2,0.91],[99.9,1.01],[100,0]],
  [[42,0],[42,0.18],[45.9,0.39],[49.6,0.49],[53.3,0.59],[56.9,0.43],[64.3,0.49],[79,0.63],[93.7,0.83],[99.9,1.0],[100,0]],
  [[0,0],[0,0.28],[0.6,0.14],[10.5,0.08],[10.9,0.79],[16.4,0.75],[49.6,0.75],[50.7,0.39],[53.6,0.35],[54,0.79],[54.3,0.35],[57.3,0.28],[57.8,0.83],[58.3,0.28],[67.9,0.28],[68.3,0.79],[68.7,0.39],[71.7,0.47],[71.8,0.83],[72.3,0.43],[75.4,0.47],[75.8,0.95],[76.1,0.47],[78.6,0.57],[79,0.89],[79.3,0.47],[80.8,0.57],[81,0.89],[81.5,0.47],[87.1,0.57],[87.5,0.83],[87.8,0.47],[88.5,0.89],[89.3,0.47],[90,0.83],[90.7,0.47],[91.8,0.79],[92.2,0.47],[93.3,0.83],[93.7,0.47],[97.4,0.69],[99.9,1.1],[100,0]],
  [[0,0],[0,0.81],[0.2,0.2],[27.5,0.16],[49.2,0.2],[49.6,0.47],[56.9,0.53],[64.3,0.61],[71.7,0.61],[85,0.57],[86.4,0.97],[88.5,1.01],[90,0.67],[93.7,0.77],[95.2,0.87],[99.9,0.97],[100,0]],
  [[98.5,0],[99.4,0.3],[99.9,1.9],[100,0]],
  [[16.1,0],[16.1,0.75],[16.4,0.51],[27.5,0.51],[30.4,0.59],[34.1,0.59],[34.5,0.41],[51,0.41],[51.4,0.75],[53.3,0.75],[54,0.14],[54.7,0.71],[56.9,0.75],[60.6,0.65],[64.3,0.71],[68,0.55],[69.4,0.45],[70.1,0.75],[79,0.79],[86.4,0.79],[93.7,0.91],[97.9,1.16],[99.9,1.56],[100,0]],
  [[68.7,0],[68.7,0.12],[69.9,0.37],[70.2,0.12],[76,0.16],[77.5,0.84],[78.2,0.22],[79.3,0.77],[80.5,0.65],[81,0.16],[87.1,0.22],[92.5,0.32],[92.8,0.84],[93.4,1.1],[94.2,0.63],[97.4,0.84],[99.9,1.34],[100,0]],
  [[40.6,0],[40.6,0.71],[46.7,0.75],[47.1,0.87],[52.5,0.87],[52.8,0.71],[64.3,0.75],[79,0.81],[98.9,0.91],[99.9,1.01],[100,0]]
];

const SOC_SPIKES = [
  [], [], [], [],
  [[25.3,0.1]],
  [[30.8,0.1],[35.2,0.1],[35.8,0.1]],
  [],
  [[18.6,0.05],[24.5,0.05]],
  [], [], [], [], [], [], [], [], [], [], [], [], [], [], [], [], [], [], [], []
];

const TEMP_ROWS = [
  [[-4.6,0],[5.0,0.02],[7.2,0.1],[11.7,0.16],[13.2,0.21],[15.2,0.1],[16.5,0.12],[18.7,0.29],[21.4,0.29],[24.0,0.29],[25.6,0.21],[28.0,0.6],[29.5,0.45],[31.5,0.55],[32.4,0.41],[33.7,0.16],[35.1,0.02],[60,0]],
  [[-4.6,0],[-1.6,0.04],[4.2,0.18],[7.2,0.14],[9.9,0.18],[10.8,0.31],[13.9,0.51],[16.1,0.57],[18.5,0.76],[20.9,0.31],[24.0,0.08],[25.8,0.08],[29.3,0.02],[60,0]],
  [[-4.6,0],[7.2,0.02],[10.8,0.12],[13.2,0.45],[16.1,0.35],[18.9,0.51],[20.5,0.41],[23.6,0.58],[26.7,0.47],[30.6,0.12],[33.7,0.08],[38.1,0.02],[60,0]],
  [[-4.6,0],[15.2,0.02],[16.5,0.18],[17.8,0.92],[18.9,1.5],[20.5,0.96],[22.3,0.57],[24.2,0.66],[25.3,0.43],[26.9,0.08],[29.3,0],[60,0]],
  [[-4.6,0],[7.2,0.04],[9.4,0.12],[11.7,0.39],[13.9,0.51],[15.2,0.39],[17.8,0.35],[18.9,0.39],[20.9,0.35],[22.7,0.51],[25.8,0.45],[28.4,0.16],[32.4,0],[60,0]],
  [[-4.6,0],[2.8,0],[11.7,0.04],[16.1,0.16],[18.7,0.29],[21.4,0.35],[23.6,0.49],[27.5,0.49],[31.1,0.35],[34.6,0.23],[38.1,0.12],[42.6,0.04],[60,0]],
  [[-4.6,0],[11.2,0.02],[14.3,0.18],[16.1,0.31],[18.9,0.6],[21.4,0.45],[24.9,0.51],[26.2,0.45],[27.8,0.6],[30.2,0.25],[32.8,0.06],[33.7,0],[60,0]],
  [[-4.6,0],[9.4,0.02],[14.3,0.1],[18.7,0.23],[21.4,0.23],[23.1,0.29],[27.1,0.29],[32.0,0.27],[35.9,0.2],[40.4,0.12],[47.0,0.06],[53.6,0.02],[60,0]],
  [[-4.6,0],[5.0,0.02],[11.7,0.14],[14.3,0.25],[18.7,0.55],[20.5,0.49],[22.3,0.58],[24.9,0.41],[27.5,0.29],[31.5,0.1],[35.9,0.02],[60,0]],
  [[-4.6,0],[3.7,0.02],[7.2,0.14],[9.0,0.25],[12.8,0.39],[15.2,0.39],[17.8,0.53],[20.5,0.37],[23.1,0.39],[25.8,0.2],[29.3,0.16],[33.7,0.04],[60,0]],
  [[-4.6,0],[2.8,0],[6.8,0.16],[9.9,0.12],[13.4,0.21],[15.6,0.31],[17.0,0.7],[18.5,1.19],[20.0,0.86],[22.3,0.55],[24.0,0.16],[26.2,0],[60,0]],
  [[-4.6,0],[0.6,0.04],[5.0,0.14],[7.2,0.23],[9.0,0.25],[11.1,0.47],[13.4,0.23],[16.1,0.18],[20.5,0.23],[24.9,0.23],[27.5,0.29],[28.9,0.37],[31.5,0.21],[34.6,0.1],[38.1,0.02],[60,0]],
  [[-4.6,0],[2.8,0.02],[8.1,0.08],[11.7,0.21],[13.9,0.29],[16.1,0.21],[18.9,1.25],[21.4,0.8],[23.1,0.47],[24.9,0.14],[27.1,0],[60,0]],
  [[-4.6,0],[11.2,0.02],[13.9,0.23],[16.1,0.58],[18.7,0.58],[20.9,0.43],[23.8,0.66],[26.7,0.39],[29.3,0.16],[32.4,0],[60,0]],
  [[-4.6,0],[5.0,0.02],[9.0,0.21],[12.5,0.1],[16.1,0.25],[18.5,0.37],[21.4,0.29],[24.9,0.21],[28.0,0.57],[29.3,0.51],[31.3,0.53],[32.8,0.25],[35.1,0.02],[60,0]],
  [[-4.6,0],[2.8,0],[9.9,0.09],[13.4,0.4],[16.1,0.53],[18.5,0.67],[20.5,0.4],[22.3,0.4],[25.8,0.28],[29.3,0.14],[33.7,0.09],[38.1,0.01],[60,0]],
  [[-4.6,0],[-1.6,0.01],[2.4,0.11],[4.2,0.31],[5.9,0.23],[7.2,0.33],[9.0,0.33],[10.8,0.23],[14.3,0.27],[16.1,0.42],[18.7,0.46],[19.6,0.62],[22.3,0.62],[24.0,0.31],[26.2,0.07],[29.3,0],[60,0]],
  [[-4.6,0],[2.8,0],[7.2,0.04],[9.4,0.14],[13.9,0.18],[16.5,0.25],[17.8,0.45],[20.5,0.45],[23.1,0.53],[27.1,0.49],[29.3,0.33],[32.0,0.21],[35.9,0.14],[40.4,0.06],[47.0,0.01],[60,0]],
  [[-4.6,0],[4.2,0.02],[7.2,0.12],[9.9,0.12],[11.7,0.25],[13.4,0.27],[15.2,0.21],[16.1,0.31],[17.8,0.99],[18.9,1.25],[20.5,0.9],[22.7,0.6],[24.9,0.16],[27.1,0],[60,0]],
  [[-4.6,0],[4.2,0.02],[8.6,0.12],[11.7,0.25],[14.1,0.31],[15.6,0.25],[17.0,0.64],[18.9,1.27],[21.4,0.78],[23.1,0.45],[24.9,0.06],[27.1,0],[60,0]],
  [[-4.6,0],[7.2,0.02],[16.1,0.1],[20.5,0.18],[22.3,0.33],[24.9,0.37],[28.0,0.45],[32.0,0.45],[35.1,0.27],[38.1,0.18],[40.4,0.08],[44.8,0.01],[60,0]],
  [[-4.6,0],[8.1,0.04],[10.8,0.29],[12.1,0.58],[13.4,0.78],[14.7,0.43],[16.1,0.39],[18.5,0.62],[20.5,0.39],[24.9,0.29],[26.7,0.23],[28.0,0.57],[29.3,0.29],[30.9,0],[60,0]],
  [[-4.6,0],[0.6,0.04],[3.7,0.19],[6.4,0.23],[7.2,0.29],[9.9,0.27],[12.1,0.16],[13.9,0.23],[16.1,0.31],[20.5,0.23],[21.4,0.53],[23.1,0.92],[24.9,0.66],[26.2,0.23],[29.3,0.1],[33.7,0.02],[60,0]],
  [[-4.6,0],[-1.1,0],[0.2,0.25],[2.4,0.16],[3.7,0.19],[5.5,0.12],[8.6,0.25],[11.2,0.31],[16.1,0.39],[18.7,0.33],[22.0,0.45],[24.9,0.31],[29.3,0.06],[31.5,0],[60,0]],
  [[-4.6,0],[7.2,0.02],[11.2,0.18],[13.9,0.53],[16.1,0.47],[17.8,0.86],[18.9,1.38],[19.6,0.86],[20.5,0.18],[22.3,0.31],[24.9,0.19],[26.0,0.53],[27.5,0.31],[29.3,0],[60,0]],
  [[-4.6,0],[-1.1,0.06],[0.2,0.21],[2.8,0.12],[5.9,0.27],[8.1,0.41],[9.9,0.6],[13.0,0.57],[14.3,0.31],[16.1,0.12],[18.3,0.12],[20.0,0.66],[21.4,0.12],[24.9,0.02],[28.9,0.31],[31.1,0],[60,0]],
  [[-4.6,0],[2.8,0.02],[6.4,0.18],[8.1,0.43],[9.0,0.62],[9.9,0.57],[11.0,0.72],[13.4,0.53],[16.1,0.18],[18.3,1.21],[19.6,0.53],[20.5,0.33],[24.9,0.1],[29.3,0.04],[33.7,0],[60,0]],
  [[-4.6,0.02],[0,0.16],[1.9,0.04],[7.2,0.08],[11.7,0.25],[13.4,0.16],[16.1,0.21],[18.3,0.39],[20.0,0.43],[21.8,0.1],[24.9,0.35],[26.2,0.84],[27.5,1.03],[29.3,0.64],[31.1,0.16],[32.8,0],[60,0]]
];

// page layout of the four panels (pixels)
const PANELS = [
  { id: 'pA', left: 0, top: 30, width: 545, height: 535, yAxisW: 38, padRight: 33,
    rowTop: 68.3, rowBottom: 504.4, axisY: 504.4, xMin: -399, xMax: 224.6, ticks: CURRENT_TICKS,
    rows: CURRENT_ROWS, spikes: CURRENT_SPIKES, spikeHalf: 2.0, color: '#E3B922', smooth: false,
    lineWidth: 1, axisColor: '#777', xTitle: 'Current [A]', titlePad: 3.8, labelOffset: -9 },
  { id: 'pB', left: 590, top: 30, width: 529, height: 535, yAxisW: 43, padRight: 0,
    rowTop: 64.3, rowBottom: 504.3, axisY: 504.3, xMin: -0.065, xMax: 6.63, ticks: VOLTAGE_TICKS,
    rows: VOLTAGE_ROWS, spikes: VOLTAGE_SPIKES, spikeHalf: 0.021, color: '#E5852B', smooth: false,
    lineWidth: 1, axisColor: '#222', xTitle: 'Cell Voltage [V]', titlePad: 3.8, labelOffset: -8.5 },
  { id: 'pC', left: 0, top: 600, width: 545, height: 543, yAxisW: 40, padRight: 30,
    rowTop: 644.7, rowBottom: 1088.3, axisY: 1088.8, xMin: -0.51, xMax: 104.46, ticks: SOC_TICKS,
    rows: SOC_ROWS, spikes: SOC_SPIKES, spikeHalf: 0.33, color: '#157A7A', smooth: false,
    lineWidth: 1, axisColor: '#222', xTitle: 'SOC [%]', titlePad: 0, labelOffset: -6.8 },
  { id: 'pD', left: 590, top: 600, width: 529, height: 543, yAxisW: 44, padRight: 0,
    rowTop: 624.3, rowBottom: 1086, axisY: 1087.7, xMin: -4.6, xMax: 59.64, ticks: TEMP_TICKS,
    rows: TEMP_ROWS, spikes: null, spikeHalf: 0, color: '#8C6C88', smooth: true,
    lineWidth: 1.2, axisColor: '#222', xTitle: 'Temperature [\u00B0C]', titlePad: -1, labelOffset: -6.2 }
];

Chart.defaults.font.family = "'Liberation Sans', Arial, sans-serif";
Chart.defaults.color = '#2a2a2a';

function fmtTick(v) {
  return v < 0 ? '\u2212' + Math.abs(v) : String(v);
}

// body pieces and spike triangles, sorted along x and separated by gaps
function buildPoints(base, body, spikes, half) {
  const pieces = [];
  let cur = [];
  body.forEach(p => {
    if (p === null) { if (cur.length) pieces.push(cur); cur = []; }
    else cur.push(p);
  });
  if (cur.length) pieces.push(cur);
  (spikes || []).forEach(([x, h]) => pieces.push([[x - half, 0], [x, h], [x + half, 0]]));
  pieces.sort((a, b) => a[0][0] - b[0][0]);
  const pts = [];
  let lastX = -Infinity;
  pieces.forEach((piece, i) => {
    // keep x increasing where neighbouring bumps touch
    const startX = Math.max(piece[0][0], lastX);
    if (i > 0) pts.push({ x: startX, y: null });
    piece.forEach(([x, h], j) => {
      const px = j === 0 ? startX : Math.max(x, startX);
      pts.push({ x: px, y: base + h });
      lastX = px;
    });
  });
  return pts;
}

function makeChart(p) {
  const wrap = document.getElementById(p.id);
  Object.assign(wrap.style, { left: p.left + 'px', top: p.top + 'px', width: p.width + 'px', height: p.height + 'px' });
  const spacing = (p.rowBottom - p.rowTop) / 27;
  const yMax = (p.rowBottom - p.top) / spacing;
  const yMin = -(p.axisY - p.rowBottom) / spacing;

  const datasets = p.rows.map((body, i) => {
    const base = 27 - i;
    return {
      data: buildPoints(base, body, p.spikes ? p.spikes[i] : [], p.spikeHalf),
      borderColor: '#000',
      borderWidth: p.lineWidth,
      borderJoinStyle: 'round',
      backgroundColor: p.color,
      fill: { value: base },
      pointRadius: 0,
      tension: 0,
      cubicInterpolationMode: p.smooth ? 'monotone' : 'default',
      spanGaps: false,
      order: 28 - i
    };
  });

  return new Chart(wrap.querySelector('canvas'), {
    type: 'line',
    data: { datasets },
    options: {
      responsive: true,
      maintainAspectRatio: false,
      animation: false,
      events: [],
      layout: { padding: { top: 0, left: 0, bottom: 0, right: p.padRight } },
      plugins: { legend: { display: false }, tooltip: { enabled: false } },
      scales: {
        x: {
          type: 'linear',
          min: p.xMin,
          max: p.xMax,
          afterBuildTicks: s => { s.ticks = p.ticks.map(v => ({ value: v })); },
          afterFit: s => { s.height = p.top + p.height - p.axisY; s.paddingLeft = 0; s.paddingRight = 0; },
          grid: { drawOnChartArea: false, drawTicks: true, tickLength: 4, tickColor: p.axisColor, tickWidth: 1.2 },
          border: { display: true, color: p.axisColor, width: 1.5 },
          ticks: { autoSkip: false, maxRotation: 0, padding: -3, font: { size: 24 }, color: '#2a2a2a', callback: v => fmtTick(v) },
          title: { display: true, text: p.xTitle, font: { size: 27 }, color: '#2a2a2a', padding: { top: 0, bottom: p.titlePad } }
        },
        y: {
          type: 'linear',
          min: yMin,
          max: yMax,
          afterBuildTicks: s => { s.ticks = ROW_LABELS.map((_, i) => ({ value: 27 - i })); },
          afterFit: s => { s.width = p.yAxisW; s.paddingTop = 0; s.paddingBottom = 0; },
          grid: { display: false, drawTicks: false },
          border: { display: false },
          ticks: { autoSkip: false, padding: 3, labelOffset: p.labelOffset, font: { size: 19 }, color: '#2a2a2a',
                   callback: v => ROW_LABELS[27 - Math.round(v)] }
        }
      }
    }
  });
}

PANELS.forEach(makeChart);
</script>
</body>
</html>
